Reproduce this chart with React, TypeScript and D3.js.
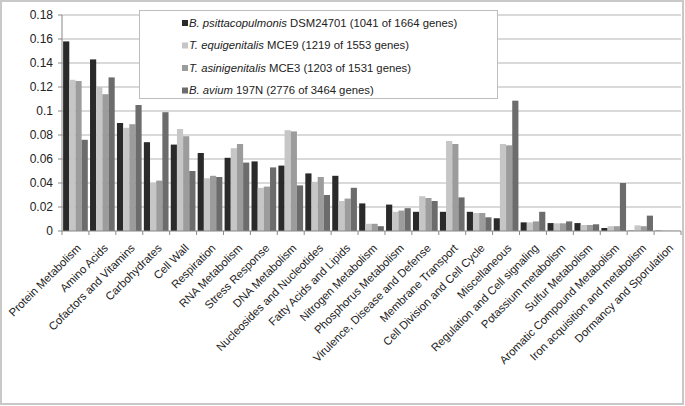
import React from "react";
import * as d3 from "d3";

const categories = [
  "Protein Metabolism", "Amino Acids", "Cofactors and Vitamins", "Carbohydrates", "Cell Wall",
  "Respiration", "RNA Metabolism", "Stress Response", "DNA Metabolism", "Nucleosides and Nucleotides",
  "Fatty Acids and Lipids", "Nitrogen Metabolism", "Phosphorus Metabolism", "Virulence, Disease and Defense",
  "Membrane Transport", "Cell Division and Cell Cycle", "Miscellaneous", "Regulation and Cell signaling",
  "Potassium metabolism", "Sulfur Metabolism", "Aromatic Compound Metabolism",
  "Iron acquisition and metabolism", "Dormancy and Sporulation",
];

const bPsittacopulmonis = [0.158, 0.143, 0.090, 0.074, 0.072, 0.065, 0.061, 0.058, 0.0545, 0.048, 0.046, 0.023, 0.022, 0.016, 0.016, 0.016, 0.0106, 0.0072, 0.0066, 0.0066, 0.0025, 0.0003, 0.0003];
const tEquigenitalis = [0.126, 0.120, 0.086, 0.040, 0.085, 0.044, 0.069, 0.036, 0.084, 0.041, 0.025, 0.006, 0.016, 0.029, 0.075, 0.015, 0.0725, 0.0072, 0.0064, 0.005, 0.004, 0.0047, 0.0004];
const tAsinigenitalis = [0.125, 0.114, 0.089, 0.042, 0.079, 0.046, 0.0725, 0.037, 0.083, 0.045, 0.027, 0.006, 0.017, 0.0275, 0.0725, 0.015, 0.0714, 0.008, 0.0064, 0.005, 0.004, 0.004, 0.0002];
const bAvium = [0.076, 0.128, 0.105, 0.099, 0.050, 0.045, 0.057, 0.053, 0.038, 0.030, 0.036, 0.004, 0.019, 0.025, 0.028, 0.0114, 0.1086, 0.016, 0.008, 0.0056, 0.040, 0.0128, 0.0001];

const yTicks = [0, 0.02, 0.04, 0.06, 0.08, 0.1, 0.12, 0.14, 0.16, 0.18];

const seriesNames = [
  { italic: "B. psittacopulmonis", rest: " DSM24701 (1041 of 1664 genes)" },
  { italic: "T. equigenitalis", rest: " MCE9 (1219 of 1553 genes)" },
  { italic: "T. asinigenitalis", rest: " MCE3 (1203 of 1531 genes)" },
  { italic: "B. avium", rest: " 197N (2776 of 3464 genes)" },
];
const seriesValues = [bPsittacopulmonis, tEquigenitalis, tAsinigenitalis, bAvium];
const colors = ["#2a2a2a", "#c6c6c6", "#9c9c9c", "#6c6c6c"];

export default function App() {
  const W = 685, H = 406;
  const left = 62, right = 681, top = 15, bottom = 231;
  const font = "Liberation Sans, Arial, sans-serif";

  const x = d3.scaleBand<string>().domain(categories).range([left, right]).paddingInner(0).paddingOuter(0);
  const inner = d3.scaleBand<number>().domain([0, 1, 2, 3]).range([0, x.bandwidth()]).paddingOuter(0.18);
  const y = d3.scaleLinear().domain([0, 0.18]).range([bottom, top]);

  return (
    <svg width={W} height={H} style={{ position: "absolute", left: 0, top: 0, background: "#fff" }} fontFamily={font}>
      <rect x={1} y={1} width={W - 3} height={H - 3} fill="#fff" stroke="#c8c8c8" strokeWidth={2} />
      {yTicks.map((t) => (
        <g key={t}>
          {t > 0 && <line x1={left} x2={right} y1={y(t)} y2={y(t)} stroke="#b4b4b4" strokeWidth={1} />}
          <line x1={left - 4} x2={left} y1={y(t)} y2={y(t)} stroke="#888" />
          <text x={left - 9} y={y(t)} dy="0.35em" textAnchor="end" fontSize={12} fill="#222">{t === 0 ? "0" : String(t)}</text>
        </g>
      ))}
      <line x1={left} x2={left} y1={top} y2={bottom} stroke="#888" />
      {categories.map((c, i) => (
        <g key={c}>
          {seriesValues.map((vals, s) => (
            <rect key={s} x={(x(c) as number) + (inner(s) as number)} y={y(vals[i])} width={inner.bandwidth()} height={bottom - y(vals[i])} fill={colors[s]} />
          ))}
        </g>
      ))}
      <line x1={left} x2={right} y1={bottom} y2={bottom} stroke="#888" />
      {categories.map((c, i) => (
        <line key={"t" + i} x1={(x(c) as number) + x.bandwidth()} x2={(x(c) as number) + x.bandwidth()} y1={bottom} y2={bottom + 4} stroke="#888" />
      ))}
      <line x1={left} x2={left} y1={bottom} y2={bottom + 4} stroke="#888" />
      {categories.map((c) => {
        const cx = (x(c) as number) + x.bandwidth() / 2;
        return (
          <text key={"l" + c} transform={`translate(${cx + 3.5},${bottom + 15}) rotate(-45)`} textAnchor="end" dy="0.35em" fontSize={11.3} fill="#222">{c}</text>
        );
      })}
      <g>
        <rect x={139.5} y={10.5} width={358} height={88} fill="#fff" stroke="#bdbdbd" />
        {seriesNames.map((s, i) => (
          <g key={i} transform={`translate(182,${23 + i * 22.5})`}>
            <rect x={0} y={-3} width={6} height={6} fill={colors[i]} />
            <text x={7} y={0} dy="0.35em" fontSize={11.3} fill="#222">
              <tspan fontStyle="italic">{s.italic}</tspan>
              <tspan>{s.rest}</tspan>
            </text>
          </g>
        ))}
      </g>
    </svg>
  );
}
